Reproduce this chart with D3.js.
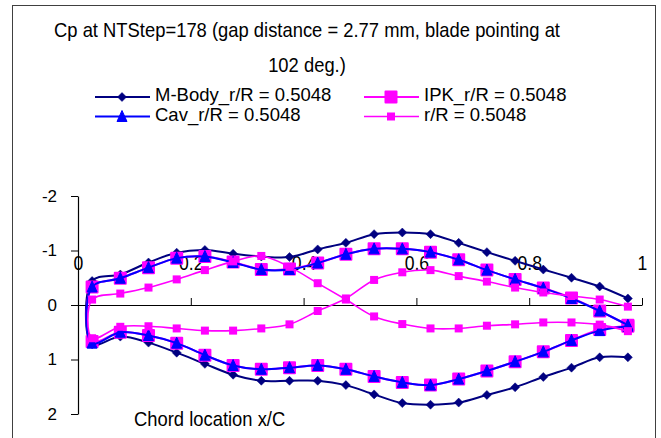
<!DOCTYPE html>
<html>
<head>
<meta charset="utf-8">
<script src="https://cdn.jsdelivr.net/npm/d3@7/dist/d3.min.js"></script>
<style>
  html, body { margin: 0; padding: 0; background: #fff; }
  svg { display: block; font-family: "Liberation Sans", Arial, sans-serif; }
</style>
</head>
<body>
<svg id="chart" width="661" height="438"></svg>
<script>
// Chord stations x/C (same stations on both surfaces)
const chord = [0.025, 0.075, 0.125, 0.175, 0.225, 0.275, 0.325, 0.375, 0.425, 0.475,
               0.525, 0.575, 0.625, 0.675, 0.725, 0.775, 0.825, 0.875, 0.925, 0.975];

// Cp on each branch, leading edge to trailing edge
const mBodyA = [-0.44, -0.56, -0.78, -0.96, -1.01, -0.94, -0.89, -0.88, -1.02, -1.14,
                -1.30, -1.33, -1.30, -1.14, -0.97, -0.81, -0.65, -0.50, -0.34, -0.12];
const mBodyB = [0.72, 0.58, 0.69, 0.875, 1.08, 1.28, 1.39, 1.39, 1.39, 1.47,
                1.64, 1.80, 1.83, 1.79, 1.65, 1.51, 1.32, 1.15, 0.96, 0.96];

const ipkA = [-0.33, -0.49, -0.685, -0.86, -0.89, -0.79, -0.65, -0.66, -0.77, -0.93,
              -1.03, -1.03, -0.97, -0.83, -0.64, -0.47, -0.31, -0.13, 0.11, 0.37];
const ipkB = [0.67, 0.50, 0.56, 0.70, 0.92, 1.11, 1.18, 1.15, 1.11, 1.18,
              1.31, 1.42, 1.47, 1.36, 1.21, 1.04, 0.86, 0.65, 0.45, 0.39];

const cavA = [-0.33, -0.49, -0.685, -0.86, -0.89, -0.78, -0.65, -0.65, -0.77, -0.93,
              -1.03, -1.03, -0.97, -0.83, -0.64, -0.47, -0.31, -0.12, 0.11, 0.37];
const cavB = [0.70, 0.50, 0.56, 0.70, 0.92, 1.11, 1.18, 1.15, 1.11, 1.18,
              1.31, 1.42, 1.47, 1.36, 1.21, 1.04, 0.86, 0.65, 0.47, 0.39];

const rrA = [-0.10, -0.21, -0.32, -0.47, -0.64, -0.80, -0.90, -0.70, -0.40, -0.10,
             0.21, 0.35, 0.43, 0.43, 0.38, 0.355, 0.32, 0.32, 0.36, 0.48];
const rrB = [0.61, 0.40, 0.39, 0.43, 0.47, 0.47, 0.43, 0.355, 0.11, -0.12,
             -0.46, -0.60, -0.64, -0.53, -0.43, -0.32, -0.23, -0.165, -0.10, 0.03];

const seriesNames = ["M-Body_r/R = 0.5048", "IPK_r/R = 0.5048", "Cav_r/R = 0.5048", "r/R = 0.5048"];
const xTicks = [0, 0.2, 0.4, 0.6, 0.8, 1];
const yTicks = [-2, -1, 0, 1, 2];
const titleLines = ["Cp at NTStep=178 (gap distance = 2.77 mm, blade pointing at", "102 deg.)"];
const xLabel = "Chord location x/C";

// Each series is drawn as one loop: trailing edge of branch A -> leading edge -> trailing edge of branch B
function loop(a, b) {
  const up = a.map((v, i) => [chord[i], v]).reverse();
  const lo = b.map((v, i) => [chord[i], v]);
  return up.concat(lo);
}

const series = [
  { name: seriesNames[0], pts: loop(mBodyA, mBodyB), color: "#000080", marker: "diamond", size: 9, width: 2 },
  { name: seriesNames[1], pts: loop(ipkA, ipkB), color: "#ff00ff", marker: "bigsquare", size: 13, width: 2 },
  { name: seriesNames[2], pts: loop(cavA, cavB), color: "#0000ff", marker: "triangle", size: 10, width: 2 },
  { name: seriesNames[3], pts: loop(rrA, rrB), color: "#ff00ff", marker: "square", size: 8, width: 1.6 }
];

const svg = d3.select("#chart");

// chart area frame
svg.append("rect")
  .attr("x", 12.5).attr("y", 5.5).attr("width", 643).attr("height", 440)
  .attr("fill", "#fff").attr("stroke", "#404040").attr("stroke-width", 1);

const x = d3.scaleLinear().domain([0, 1]).range([78, 642]);
const y = d3.scaleLinear().domain([-2, 2]).range([196, 414]);

// title, slightly condensed type
svg.append("g").selectAll("text").data(titleLines).join("text")
  .attr("transform", (d, i) => `translate(307,${37 + i * 35}) scale(0.92,1)`)
  .attr("text-anchor", "middle")
  .attr("font-size", 20)
  .attr("fill", "#000")
  .text(d => d);

// axes
const yAxis = d3.axisLeft(y).tickValues(yTicks).tickSize(7).tickSizeOuter(0).tickPadding(14)
  .tickFormat(d => String(d));
const gy = svg.append("g").attr("transform", `translate(${x(0)},0)`).call(yAxis);
gy.selectAll("text").attr("font-size", 17).attr("font-family", "Liberation Sans, Arial, sans-serif").attr("fill", "#000");

const xAxis = d3.axisTop(x).tickValues(xTicks).tickSize(7).tickSizeOuter(0).tickPadding(28)
  .tickFormat(d => String(d));
const gx = svg.append("g").attr("transform", `translate(0,${y(0)})`).call(xAxis);
gx.selectAll("text").attr("font-size", 20).attr("font-family", "Liberation Sans, Arial, sans-serif")
  .attr("fill", "#000").attr("transform", "scale(0.88,1)");

[gx, gy].forEach(g => {
  g.select(".domain").attr("stroke", "#000").attr("stroke-width", 1.2);
  g.selectAll(".tick line").attr("stroke", "#000");
});

svg.append("text")
  .attr("transform", "translate(134,426) scale(0.92,1)")
  .attr("font-size", 20).attr("fill", "#000")
  .text(xLabel);

// markers
function drawMarker(sel, s) {
  const r = s.size / 2;
  if (s.marker === "diamond") {
    sel.append("path").attr("d", `M0,${-r}L${r},0L0,${r}L${-r},0Z`)
      .attr("fill", s.color).attr("stroke", s.color).attr("stroke-width", 0.5);
  } else if (s.marker === "triangle") {
    sel.append("path").attr("d", `M0,${-r - 1}L${r},${r}L${-r},${r}Z`)
      .attr("fill", s.color).attr("stroke", s.color).attr("stroke-width", 1);
  } else if (s.marker === "bigsquare") {
    sel.append("rect").attr("x", -r + 1).attr("y", -r + 1).attr("width", s.size - 2).attr("height", s.size - 2)
      .attr("fill", s.color).attr("stroke", s.color).attr("stroke-width", 2).attr("stroke-linejoin", "round");
  } else {
    sel.append("rect").attr("x", -r).attr("y", -r).attr("width", s.size).attr("height", s.size)
      .attr("fill", s.color);
  }
}

const line = d3.line().x(d => x(d[0])).y(d => y(d[1])).curve(d3.curveCatmullRom.alpha(0.5));

const plot = svg.append("g");
series.forEach(s => {
  const g = plot.append("g");
  g.append("path").attr("d", line(s.pts))
    .attr("fill", "none").attr("stroke", s.color).attr("stroke-width", s.width);
  g.selectAll("g.m").data(s.pts).join("g").attr("class", "m")
    .attr("transform", d => `translate(${x(d[0])},${y(d[1])})`)
    .each(function () { drawMarker(d3.select(this), s); });
});

// legend, two columns filled row by row
const legend = svg.append("g");
series.forEach((s, i) => {
  const col = i % 2, row = Math.floor(i / 2);
  const lx = col === 0 ? 95 : 364;
  const ly = 97 + row * 19.5;
  const g = legend.append("g").attr("transform", `translate(${lx},${ly})`);
  g.append("line").attr("x1", 0).attr("x2", 55).attr("y1", 0).attr("y2", 0)
    .attr("stroke", s.color).attr("stroke-width", s.width);
  const m = g.append("g").attr("transform", "translate(27,0)");
  drawMarker(m, s);
  g.append("text").attr("x", 60).attr("y", 4).attr("font-size", 18.5).attr("fill", "#000").text(s.name);
});
</script>
</body>
</html>
